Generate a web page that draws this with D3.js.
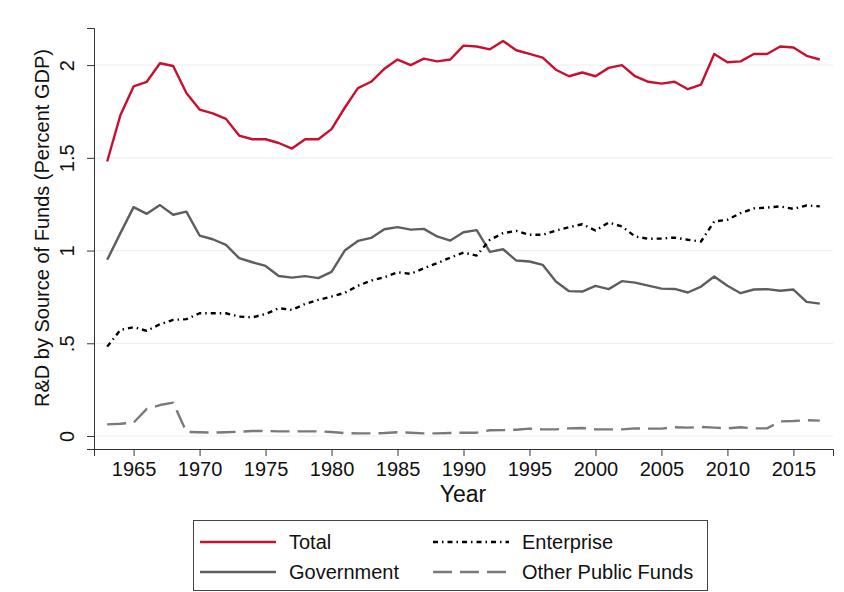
<!DOCTYPE html>
<html>
<head>
<meta charset="utf-8">
<script src="https://cdn.jsdelivr.net/npm/d3@7"></script>
<style>
	body { margin: 0; background: #fff; }
	svg { display: block; font-family: "Liberation Sans", Arial, sans-serif; }
</style>
</head>
<body>
<div class="content"></div>
<script>
const w = 844;
const h = 592;

const years = d3.range(1963, 2018);

const total = [1.48, 1.73, 1.885, 1.91, 2.01, 1.995, 1.85, 1.76, 1.74, 1.71,
	1.62, 1.60, 1.60, 1.58, 1.55, 1.60, 1.60, 1.655, 1.77, 1.876,
	1.91, 1.98, 2.03, 2.00, 2.035, 2.02, 2.03, 2.105, 2.10, 2.085,
	2.13, 2.08, 2.06, 2.04, 1.975, 1.94, 1.96, 1.94, 1.985, 2.00,
	1.94, 1.91, 1.90, 1.91, 1.87, 1.895, 2.06, 2.015, 2.02, 2.06,
	2.06, 2.10, 2.095, 2.05, 2.03];

const government = [0.95, 1.094, 1.234, 1.198, 1.245, 1.193, 1.21, 1.081, 1.061, 1.031,
	0.959, 0.937, 0.917, 0.863, 0.854, 0.862, 0.851, 0.885, 1.00, 1.052,
	1.068, 1.115, 1.126, 1.113, 1.117, 1.076, 1.054, 1.099, 1.11, 0.993,
	1.007, 0.946, 0.941, 0.923, 0.833, 0.781, 0.779, 0.81, 0.792, 0.835,
	0.827, 0.811, 0.795, 0.793, 0.774, 0.806, 0.86, 0.81, 0.77, 0.79,
	0.792, 0.783, 0.79, 0.723, 0.714];

const enterprise = [0.482, 0.572, 0.587, 0.567, 0.603, 0.626, 0.63, 0.662, 0.662, 0.662,
	0.644, 0.64, 0.658, 0.689, 0.68, 0.712, 0.734, 0.752, 0.772, 0.81,
	0.838, 0.856, 0.883, 0.874, 0.905, 0.932, 0.962, 0.989, 0.973, 1.058,
	1.094, 1.106, 1.085, 1.085, 1.108, 1.126, 1.142, 1.108, 1.151, 1.13,
	1.076, 1.063, 1.065, 1.07, 1.058, 1.049, 1.157, 1.166, 1.202, 1.227,
	1.232, 1.238, 1.225, 1.243, 1.238];

const otherPublic = [0.063, 0.066, 0.072, 0.146, 0.167, 0.18, 0.022, 0.02, 0.018, 0.02,
	0.023, 0.027, 0.027, 0.025, 0.025, 0.025, 0.025, 0.022, 0.016, 0.014,
	0.014, 0.016, 0.02, 0.018, 0.014, 0.014, 0.016, 0.018, 0.018, 0.031,
	0.032, 0.034, 0.04, 0.036, 0.036, 0.041, 0.043, 0.036, 0.036, 0.036,
	0.041, 0.04, 0.04, 0.047, 0.045, 0.049, 0.045, 0.041, 0.047, 0.041,
	0.041, 0.079, 0.081, 0.085, 0.083];

const xTicks = [1965, 1970, 1975, 1980, 1985, 1990, 1995, 2000, 2005, 2010, 2015];
const yTicks = [0, 0.5, 1, 1.5, 2];
const yTickLabels = ['0', '.5', '1', '1.5', '2'];

const series = [
	{ name: 'Total', values: total, color: '#c8102e', dash: null, width: 2.4 },
	{ name: 'Government', values: government, color: '#5e5e5e', dash: null, width: 2.4 },
	{ name: 'Enterprise', values: enterprise, color: '#000', dash: '5 4 1.5 4', width: 2.4 },
	{ name: 'Other Public Funds', values: otherPublic, color: '#7a7a7a', dash: '19 8', width: 2.4 }
];

const svg = d3.select('.content').append('svg')
	.attr('width', w)
	.attr('height', h);

const xScale = d3.scaleLinear()
	.domain([1962, 2018])
	.range([94, 833]);

const yScale = d3.scaleLinear()
	.domain([-0.07, 2.2])
	.range([449, 28]);

// grid
svg.append('g')
	.selectAll('line')
	.data(yTicks)
	.enter()
	.append('line')
	.attr('x1', xScale.range()[0])
	.attr('x2', xScale.range()[1])
	.attr('y1', (d) => yScale(d))
	.attr('y2', (d) => yScale(d))
	.attr('stroke', '#eaf2f3')
	.attr('stroke-width', 1.2);

const line = d3.line()
	.x((d, i) => xScale(years[i]))
	.y((d) => yScale(d));

svg.append('g')
	.selectAll('path')
	.data(series)
	.enter()
	.append('path')
	.attr('d', (d) => line(d.values))
	.attr('fill', 'none')
	.attr('stroke', (d) => d.color)
	.attr('stroke-width', (d) => d.width)
	.attr('stroke-dasharray', (d) => d.dash)
	.attr('stroke-linejoin', 'round');

// axes
const xAxis = d3.axisBottom(xScale)
	.tickValues(xTicks)
	.tickFormat(d3.format('d'))
	.tickSizeOuter(0)
	.tickSize(7)
	.tickPadding(6);

const gx = svg.append('g')
	.attr('transform', 'translate(0,449)')
	.call(xAxis);
gx.select('.domain').attr('stroke', '#333');
gx.selectAll('.tick line').attr('stroke', '#333');
gx.selectAll('.tick text')
	.attr('font-size', 20)
	.attr('font-family', '"Liberation Sans", Arial, sans-serif')
	.attr('fill', '#111');

const yAxis = d3.axisLeft(yScale)
	.tickValues(yTicks)
	.tickFormat((d, i) => yTickLabels[i])
	.tickSizeOuter(0)
	.tickSize(7);

const gy = svg.append('g')
	.attr('transform', 'translate(94,0)')
	.call(yAxis);
gy.select('.domain').attr('stroke', '#333');
gy.selectAll('.tick line').attr('stroke', '#333');
gy.selectAll('.tick text')
	.attr('font-size', 20)
	.attr('font-family', '"Liberation Sans", Arial, sans-serif')
	.attr('fill', '#111')
	.attr('x', null)
	.attr('dy', null)
	.attr('text-anchor', 'middle')
	.attr('transform', 'translate(-20,0) rotate(-90)');

svg.append('text')
	.attr('x', 463)
	.attr('y', 502)
	.attr('text-anchor', 'middle')
	.attr('font-size', 23)
	.attr('fill', '#111')
	.text('Year');

svg.append('text')
	.attr('transform', 'translate(49,228) rotate(-90)')
	.attr('text-anchor', 'middle')
	.attr('font-size', 20)
	.attr('fill', '#111')
	.text('R&D by Source of Funds (Percent GDP)');

// legend
const legend = svg.append('g');

legend.append('rect')
	.attr('x', 193.5)
	.attr('y', 520.5)
	.attr('width', 514)
	.attr('height', 70)
	.attr('fill', '#fff')
	.attr('stroke', '#444')
	.attr('stroke-width', 1);

const legendPos = [
	{ x: 200, y: 542 },
	{ x: 200, y: 572 },
	{ x: 433, y: 542 },
	{ x: 433, y: 572 }
];

const items = legend.selectAll('g.item')
	.data(series)
	.enter()
	.append('g')
	.attr('class', 'item')
	.attr('transform', (d, i) => 'translate(' + legendPos[i].x + ',' + legendPos[i].y + ')');

items.append('line')
	.attr('x1', 0)
	.attr('x2', 76)
	.attr('stroke', (d) => d.color)
	.attr('stroke-width', (d) => d.width)
	.attr('stroke-dasharray', (d) => d.dash);

items.append('text')
	.attr('x', 89)
	.attr('y', 7)
	.attr('font-size', 20)
	.attr('fill', '#111')
	.text((d) => d.name);
</script>
</body>
</html>
